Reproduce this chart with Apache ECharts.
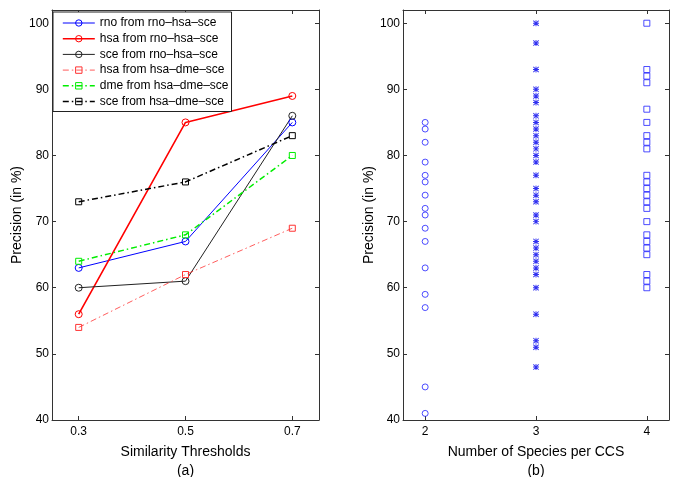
<!DOCTYPE html>
<html>
<head>
<meta charset="utf-8">
<script src="https://cdn.jsdelivr.net/npm/echarts@6/dist/echarts.min.js"></script>
<style>
  html, body { margin: 0; padding: 0; background: #fff; }
  #chart { width: 685px; height: 477px; }
</style>
</head>
<body>
<div id="chart"></div>
<script>
// left panel (a): precision per similarity threshold
const thresholds = [0.3, 0.5, 0.7];
const rnoFromRnoHsaSce = [63, 67, 85];
const hsaFromRnoHsaSce = [56, 85, 89];
const sceFromRnoHsaSce = [60, 61, 86];
const hsaFromHsaDmeSce = [54, 62, 69];
const dmeFromHsaDmeSce = [64, 68, 80];
const sceFromHsaDmeSce = [73, 76, 83];

// right panel (b): precision per number of species
const precision2 = [85, 84, 82, 79, 77, 76, 74, 72, 71, 69, 67, 63, 59, 57, 45, 41];
const precision3 = [100, 97, 93, 90, 89, 88, 86, 85, 84, 83, 82, 81, 80, 79, 77, 75, 74, 73, 71, 70,
  67, 66, 65, 64, 63, 62, 60, 56, 52, 51, 48];
const precision4 = [100, 93, 92, 91, 87, 85, 83, 82, 81, 77, 76, 75, 74, 73, 72, 70, 68, 67, 66, 65, 62, 61, 60];

// tick labels
const yTicks = [40, 50, 60, 70, 80, 90, 100];
const xTicksA = [0.3, 0.5, 0.7];
const xTicksB = [2, 3, 4];

const FONT = '"Liberation Sans", Arial, Helvetica, sans-serif';
const AXIS_COLOR = '#333';
const HOLLOW = 'rgba(255,255,255,0)';
const ASTERISK = 'path://M4.2,0H5.8V10H4.2Z M0,4.2H10V5.8H0Z M1.1,0L10,8.9L8.9,10L0,1.1Z M8.9,0L10,1.1L1.1,10L0,8.9Z';

const pairs = (xs, ys) => ys.map((y, i) => [xs[i], y]);
const column = (x, ys) => ys.map(y => [x, y]);

// one axis of the box; labels only on bottom/left
const boxAxis = (gridIndex, position, min, max, ticks, extra) => Object.assign({
  gridIndex: gridIndex,
  type: 'value',
  position: position,
  min: min,
  max: max,
  axisLine: { show: true, onZero: false, lineStyle: { color: AXIS_COLOR, width: 1 } },
  axisTick: { show: true, inside: true, length: 4, customValues: ticks, lineStyle: { color: AXIS_COLOR } },
  axisLabel: { show: false },
  splitLine: { show: false }
}, extra || {});

const tickLabel = (ticks, margin, fmt) => ({
  show: true, customValues: ticks, margin: margin, color: '#000',
  fontSize: 12, fontFamily: FONT, formatter: fmt
});
const nameStyle = { fontSize: 14, fontFamily: FONT, color: '#000', lineHeight: 19 };

const lineSeries = (name, data, color, width, dash, symbol, size) => ({
  name: name,
  type: 'line',
  xAxisIndex: 0,
  yAxisIndex: 0,
  data: pairs(thresholds, data),
  symbol: symbol,
  symbolSize: size,
  lineStyle: { color: color, width: width, type: dash },
  itemStyle: { color: HOLLOW, borderColor: color, borderWidth: 1 }
});

const chart = echarts.init(document.getElementById('chart'));
chart.setOption({
  animation: false,
  backgroundColor: '#fff',
  grid: [
    { left: 52, top: 10, width: 267, height: 410, outerBoundsMode: 'none', containLabel: false },
    { left: 403, top: 10, width: 266, height: 410, outerBoundsMode: 'none', containLabel: false }
  ],
  legend: {
    orient: 'vertical',
    left: 53,
    top: 12,
    padding: [5, 3, 4, 9],
    itemWidth: 32,
    itemHeight: 8,
    itemGap: 3.7,
    backgroundColor: '#fff',
    borderColor: '#222',
    borderWidth: 1,
    lineStyle: { width: 'inherit' },
    itemStyle: { borderWidth: 'inherit' },
    textStyle: { fontSize: 12, fontFamily: FONT, color: '#000' },
    data: ['rno from rno–hsa–sce', 'hsa from rno–hsa–sce', 'sce from rno–hsa–sce',
      'hsa from hsa–dme–sce', 'dme from hsa–dme–sce', 'sce from hsa–dme–sce']
  },
  xAxis: [
    boxAxis(0, 'bottom', 0.25, 0.75, xTicksA, {
      axisLabel: tickLabel(xTicksA, 6, v => v.toFixed(1)),
      name: 'Similarity Thresholds\n(a)', nameLocation: 'middle', nameGap: 17, nameTextStyle: nameStyle
    }),
    boxAxis(0, 'top', 0.25, 0.75, xTicksA),
    boxAxis(1, 'bottom', 1.8, 4.2, xTicksB, {
      axisLabel: tickLabel(xTicksB, 6, v => String(v)),
      name: 'Number of Species per CCS\n(b)', nameLocation: 'middle', nameGap: 17, nameTextStyle: nameStyle
    }),
    boxAxis(1, 'top', 1.8, 4.2, xTicksB)
  ],
  yAxis: [
    boxAxis(0, 'left', 40, 102, yTicks, {
      axisLabel: tickLabel(yTicks, 3, v => String(v)),
      name: 'Precision (in %)', nameLocation: 'middle', nameRotate: 90, nameGap: 28,
      nameTextStyle: { fontSize: 14, fontFamily: FONT, color: '#000' }
    }),
    boxAxis(0, 'right', 40, 102, yTicks),
    boxAxis(1, 'left', 40, 102, yTicks, {
      axisLabel: tickLabel(yTicks, 3, v => String(v)),
      name: 'Precision (in %)', nameLocation: 'middle', nameRotate: 90, nameGap: 26,
      nameTextStyle: { fontSize: 14, fontFamily: FONT, color: '#000' }
    }),
    boxAxis(1, 'right', 40, 102, yTicks)
  ],
  series: [
    lineSeries('rno from rno–hsa–sce', rnoFromRnoHsaSce, '#0000ff', 1, 'solid', 'circle', 7),
    lineSeries('hsa from rno–hsa–sce', hsaFromRnoHsaSce, '#ff0000', 1.6, 'solid', 'circle', 7),
    lineSeries('sce from rno–hsa–sce', sceFromRnoHsaSce, '#222222', 1, 'solid', 'circle', 7),
    lineSeries('hsa from hsa–dme–sce', hsaFromHsaDmeSce, '#ff3333', 0.8, [6, 3, 1.5, 3], 'rect', 6),
    lineSeries('dme from hsa–dme–sce', dmeFromHsaDmeSce, '#00ee00', 1.5, [6, 3, 1.5, 3], 'rect', 6),
    lineSeries('sce from hsa–dme–sce', sceFromHsaDmeSce, '#000000', 1.5, [6, 3, 1.5, 3], 'rect', 6),
    {
      type: 'scatter', xAxisIndex: 2, yAxisIndex: 2,
      data: column(2, precision2), symbol: 'circle', symbolSize: 6,
      itemStyle: { color: HOLLOW, borderColor: '#2020ff', borderWidth: 1 }
    },
    {
      type: 'scatter', xAxisIndex: 2, yAxisIndex: 2,
      data: column(3, precision3), symbol: ASTERISK, symbolSize: 6,
      itemStyle: { color: '#0000ee' }
    },
    {
      type: 'scatter', xAxisIndex: 2, yAxisIndex: 2,
      data: column(4, precision4), symbol: 'rect', symbolSize: 6,
      itemStyle: { color: HOLLOW, borderColor: '#2020ff', borderWidth: 1 }
    }
  ]
});
</script>
</body>
</html>
